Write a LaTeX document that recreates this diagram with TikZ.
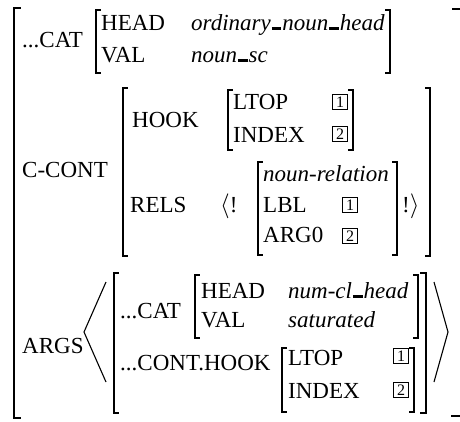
\documentclass[tikz,border=0pt]{standalone}
\usepackage{fontspec}
\setmainfont{Liberation Serif}
\newcommand\usc{\leavevmode\kern.04em\vbox{\hrule width.42em height .13em}\kern.04em}
\begin{document}
\begin{tikzpicture}[x=1pt,y=-1pt,
  txt/.style={anchor=base west,inner sep=0pt,font=\fontsize{23}{27}\selectfont},
  tag/.style={draw,line width=1.5pt,minimum width=15pt,minimum height=15pt,inner sep=0pt,font=\fontsize{16}{17}\selectfont},
  brk/.style={line width=1.8pt,line cap=rect},
  ang/.style={line width=1.1pt}]
\useasboundingbox (0,0) rectangle (460,421);
\clip (0,0) rectangle (460,421);
% outer brackets
\draw[brk] (20,8) -- (14,8) -- (14,418) -- (20,418);
\draw[brk] (453,9) -- (462,9) -- (462,416) -- (452,416);
% ...CAT
\node[txt] (cat) at (22,47) {...CAT};
\draw[brk] (100,10) -- (96,10) -- (96,73) -- (100,73);
\node[txt] (head) at (101,30) {HEAD};
\node[txt] (val) at (101,62) {VAL};
\node[txt] (headv) at (191,30) {\itshape ordinary\usc noun\usc head};
\node[txt] (valv) at (191,62) {\itshape noun\usc sc};
\draw[brk] (386,10) -- (390,10) -- (390,73) -- (386,73);
% C-CONT
\node[txt] (ccont) at (22,177) {C-CONT};
\draw[brk] (127,88) -- (123,88) -- (123,256) -- (127,256);
\draw[brk] (426,88) -- (430,88) -- (430,256) -- (426,256);
\node[txt] (hook) at (132,127) {HOOK};
\draw[brk] (232,90) -- (228,90) -- (228,150) -- (232,150);
\node[txt] (ltop) at (233,109) {LTOP};
\node[txt] (index) at (233,142) {INDEX};
\node[tag] (t1) at (340,102) {1};
\node[tag] (t2) at (340,134) {2};
\draw[brk] (349,90) -- (353,90) -- (353,150) -- (349,150);
\node[txt] (rels) at (130,212) {RELS};
\node[txt] (lang) at (220,212) {$\langle$!};
\draw[brk] (262,162) -- (258,162) -- (258,255) -- (262,255);
\node[txt] (nrel) at (263,181) {\itshape noun-relation};
\node[txt] (lbl) at (263,212) {LBL};
\node[txt] (arg0) at (263,242) {ARG0};
\node[tag] (t3) at (350,205) {1};
\node[tag] (t4) at (350,236) {2};
\draw[brk] (393,162) -- (397,162) -- (397,255) -- (393,255);
\node[txt] (rang) at (402,212) {!$\rangle$};
% ARGS
\node[txt] (args) at (22,353) {ARGS};
\draw[ang] (106,282) -- (84,332) -- (106,382);
\draw[brk] (118,273) -- (114,273) -- (114,413) -- (118,413);
\node[txt] (cat2) at (120,318) {...CAT};
\draw[brk] (199,275) -- (195,275) -- (195,338) -- (199,338);
\node[txt] (head2) at (201,298) {HEAD};
\node[txt] (val2) at (201,327) {VAL};
\node[txt] (headv2) at (288,298) {\itshape num-cl\usc head};
\node[txt] (valv2) at (288,327) {\itshape saturated};
\draw[brk] (414,275) -- (418,275) -- (418,338) -- (414,338);
\node[txt] (conthook) at (120,370) {...CONT.HOOK};
\draw[brk] (286,348) -- (282,348) -- (282,412) -- (286,412);
\node[txt] (ltop2) at (288,365) {LTOP};
\node[txt] (index2) at (288,398) {INDEX};
\node[tag] (t5) at (401,356) {1};
\node[tag] (t6) at (401,390) {2};
\draw[brk] (410,348) -- (414,348) -- (414,412) -- (410,412);
\draw[brk] (421,273) -- (426,273) -- (426,413) -- (421,413);
\draw[ang] (434,282) -- (448,332) -- (434,382);
\end{tikzpicture}
\end{document}
